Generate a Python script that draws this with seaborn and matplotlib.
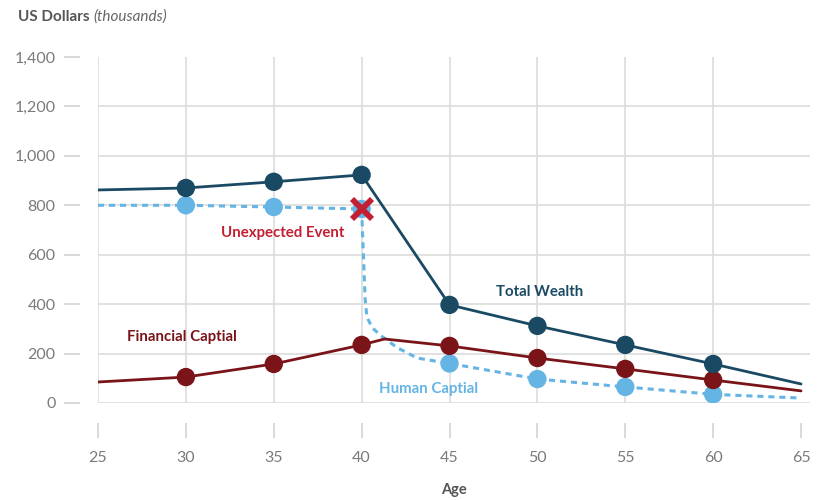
import matplotlib
matplotlib.use("Agg")
import matplotlib.pyplot as plt
import seaborn as sns
import pandas as pd

# ---- data (thousands of USD) ----
ages = [25, 30, 35, 40, 45, 50, 55, 60, 65]
total_wealth = [862, 870, 895, 923, 397, 312, 235, 158, 77]

human_ages = [25, 30, 35, 40, 40.1, 40.2, 40.3, 40.6, 41.05, 42.0, 43.15, 45, 50, 55, 60, 65]
human_capital = [800, 800, 793, 785, 600, 420, 348, 305, 275, 225, 182, 160, 97, 65, 35, 20]

fin_ages = [25, 30, 35, 40, 41.3, 45, 50, 55, 60, 65]
financial_capital = [85, 105, 158, 235, 259, 231, 182, 138, 93, 49]

marker_ages = [30, 35, 40, 45, 50, 55, 60]
event_age, event_value = 40, 785

x_ticks = [25, 30, 35, 40, 45, 50, 55, 60, 65]
y_ticks = [0, 200, 400, 600, 800, 1000, 1200, 1400]
y_tick_labels = ["0", "200", "400", "600", "800", "1,000", "1,200", "1,400"]

# ---- style ----
sns.set_style("white")
plt.rcParams["font.family"] = ["Lato", "DejaVu Sans"]

C_TOTAL = "#1a4a63"
C_FIN = "#7a1419"
C_HUM = "#64b4e4"
C_EVENT = "#c21f33"
C_GRID = "#dcdcdc"
C_TICK = "#7a7a7a"

fig = plt.figure(figsize=(8.18, 5.0), dpi=100)
ax = fig.add_axes([98 / 818, 1 - 403 / 500, (810 - 98) / 818, (403 - 57) / 500])

# grid
for x in x_ticks[:-1]:
    ax.axvline(x, color=C_GRID, lw=1.2, zorder=0)
for y in y_ticks[:-1]:
    ax.axhline(y, color=C_GRID, lw=1.2, zorder=0)

tw = pd.DataFrame({"age": ages, "value": total_wealth})
hc = pd.DataFrame({"age": human_ages, "value": human_capital})
fc = pd.DataFrame({"age": fin_ages, "value": financial_capital})

sns.lineplot(data=fc, x="age", y="value", color=C_FIN, lw=2.0, sort=False, ax=ax, zorder=3)
sns.lineplot(data=hc, x="age", y="value", color=C_HUM, lw=2.2, sort=False, ax=ax,
             linestyle=(0, (2.0, 1.6)), zorder=2)
sns.lineplot(data=tw, x="age", y="value", color=C_TOTAL, lw=2.0, sort=False, ax=ax, zorder=4)

# markers
tw_m = tw[tw["age"].isin(marker_ages)]
hc_m = hc[hc["age"].isin(marker_ages)]
fc_m = fc[fc["age"].isin(marker_ages)]
ms = 175
sns.scatterplot(data=hc_m, x="age", y="value", color=C_HUM, s=ms, edgecolor="none", ax=ax, zorder=5)
sns.scatterplot(data=fc_m, x="age", y="value", color=C_FIN, s=ms, edgecolor="none", ax=ax, zorder=6)
sns.scatterplot(data=tw_m, x="age", y="value", color=C_TOTAL, s=ms, edgecolor="none", ax=ax, zorder=7)

ax.plot([event_age], [event_value], marker="x", color=C_EVENT, markersize=14,
        markeredgewidth=4.2, zorder=8, linestyle="none")

# labels
lab_kw = dict(fontsize=10.8, fontweight="bold", ha="center", va="center", zorder=9)
ax.text(35.5, 689, "Unexpected Event", color=C_EVENT, **lab_kw)
ax.text(50.1, 450, "Total Wealth", color=C_TOTAL, **lab_kw)
ax.text(29.8, 267, "Financial Captial", color=C_FIN, **lab_kw)
ax.text(43.8, 57, "Human Captial", color=C_HUM, **lab_kw)

# axes
ax.set_xlim(25, 65.51)
ax.set_ylim(0, 1400)
ax.set_xticks(x_ticks)
ax.set_yticks(y_ticks)
ax.set_yticklabels(y_tick_labels)
for s in ["top", "right"]:
    ax.spines[s].set_visible(False)
ax.spines["left"].set_position(("outward", 13))
ax.spines["bottom"].set_position(("outward", 14.4))
ax.spines["left"].set_color("none")
ax.spines["bottom"].set_color("none")
ax.tick_params(axis="y", direction="out", length=11.5, width=1.1, color="#d0d0d0",
               labelsize=11.5, labelcolor=C_TICK, pad=6, left=True)
ax.tick_params(axis="x", direction="out", length=11, width=1.1, color="#d0d0d0",
               labelsize=11.5, labelcolor=C_TICK, pad=9, bottom=True)
ax.set_xlabel("Age", fontsize=10.5, fontweight="bold", color="#555555", labelpad=13)
ax.set_ylabel("")

t1 = fig.text(18 / 818, 1 - 17 / 500, "US Dollars", fontsize=11, fontweight="bold",
              color="#555555", ha="left", va="center")
fig.canvas.draw()
bb = t1.get_window_extent()
fig.text((bb.x1 + 4) / 818, 1 - 17 / 500, "(thousands)", fontsize=11, style="italic",
         color="#666666", ha="left", va="center")

fig.savefig("out.png", dpi=100)
